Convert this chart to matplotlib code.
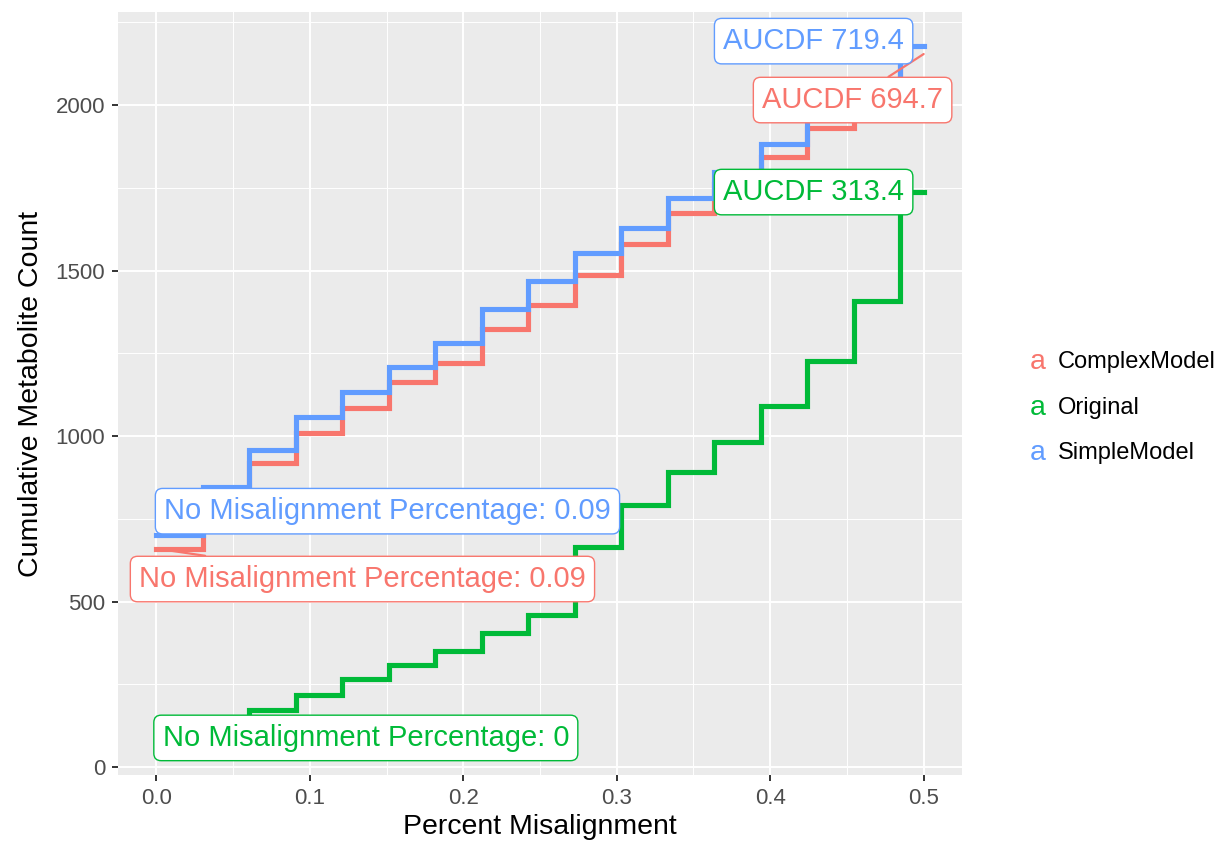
import matplotlib
matplotlib.use("Agg")
import matplotlib.pyplot as plt

plt.rcParams['font.family'] = ['Liberation Sans', 'DejaVu Sans']

# data
x_steps = [0.0, 0.0303, 0.0606, 0.0909, 0.1212, 0.1515, 0.1818, 0.2121, 0.2424,
           0.2727, 0.3030, 0.3333, 0.3636, 0.3939, 0.4242, 0.4545, 0.4848, 0.5]
complex_model = [660, 835, 918, 1009, 1085, 1163, 1220, 1323, 1396, 1486, 1580,
                 1674, 1760, 1843, 1930, 2000, 2154]
original = [80, 125, 172, 217, 266, 308, 350, 405, 459, 665, 792, 891, 982,
            1091, 1227, 1408, 1737, 1737]
simple_model = [700, 845, 958, 1056, 1133, 1209, 1281, 1384, 1468, 1553, 1628,
                1720, 1797, 1882, 1970, 2050, 2178, 2178]

series_names = ["ComplexModel", "Original", "SimpleModel"]
series_colors = ["#F8766D", "#00BA38", "#619CFF"]
start_labels = ["No Misalignment Percentage: 0.09", "No Misalignment Percentage: 0",
                "No Misalignment Percentage: 0.09"]
end_labels = ["AUCDF 694.7", "AUCDF 313.4", "AUCDF 719.4"]
# label box centres (data coords)
start_label_pos = [(0.1343, 568), (0.1365, 88), (0.1506, 773)]
end_label_pos = [(0.4537, 2015), (0.4283, 1737), (0.4283, 2193)]
end_points = [(0.5, 2154), (0.5, 1737), (0.5, 2178)]

W, H = 1220, 843
fig = plt.figure(figsize=(W / 100, H / 100), dpi=100)
ax = fig.add_axes([118 / W, (H - 775) / H, (962 - 118) / W, (775 - 12) / H])
ax.set_facecolor("#EBEBEB")
for s in ax.spines.values():
    s.set_visible(False)

ax.set_xlim(-0.025, 0.525)
ax.set_ylim(-24, 2281)
ax.set_xticks([0.0, 0.1, 0.2, 0.3, 0.4, 0.5])
ax.set_xticklabels(["0.0", "0.1", "0.2", "0.3", "0.4", "0.5"])
ax.set_yticks([0, 500, 1000, 1500, 2000])
ax.set_xticks([0.05, 0.15, 0.25, 0.35, 0.45], minor=True)
ax.set_yticks([250, 750, 1250, 1750, 2250], minor=True)
ax.grid(which="major", color="white", lw=1.4)
ax.grid(which="minor", color="white", lw=0.7)
ax.set_axisbelow(True)
ax.tick_params(which="major", length=4.3, width=1.4, color="#333333",
               labelsize=16, labelcolor="#4D4D4D", pad=5)
ax.tick_params(which="minor", length=0)

ys = [complex_model, original, simple_model]
for i in range(3):
    xs = x_steps[:len(ys[i])]
    ax.plot(xs, ys[i], drawstyle="steps-post", color=series_colors[i], lw=3.7,
            solid_joinstyle="miter", zorder=3)

for i in range(3):
    for txt, pos, pt in [(start_labels[i], start_label_pos[i], (0.0, ys[i][0])),
                         (end_labels[i], end_label_pos[i], end_points[i])]:
        ax.annotate(txt, xy=pt, xytext=pos, ha="center", va="center",
                    fontsize=21, color=series_colors[i], zorder=5,
                    bbox=dict(boxstyle="round,pad=0.3,rounding_size=0.25",
                              fc="white", ec=series_colors[i], lw=1.0),
                    arrowprops=dict(arrowstyle="-", color=series_colors[i],
                                    lw=1.6, shrinkA=0, shrinkB=0))

ax.set_xlabel("Percent Misalignment", fontsize=20.5, labelpad=4)
ax.set_ylabel("Cumulative Metabolite Count", fontsize=20.5, labelpad=8)

# legend drawn as ggplot text keys
legend_y = [362, 408, 453]
for i in range(3):
    fig.text(1030 / W, 1 - legend_y[i] / H, "a", color=series_colors[i],
             fontsize=20.5, ha="left", va="center")
    fig.text(1058 / W, 1 - legend_y[i] / H, series_names[i], color="black",
             fontsize=17, ha="left", va="center")

fig.savefig("out.png", dpi=100)
